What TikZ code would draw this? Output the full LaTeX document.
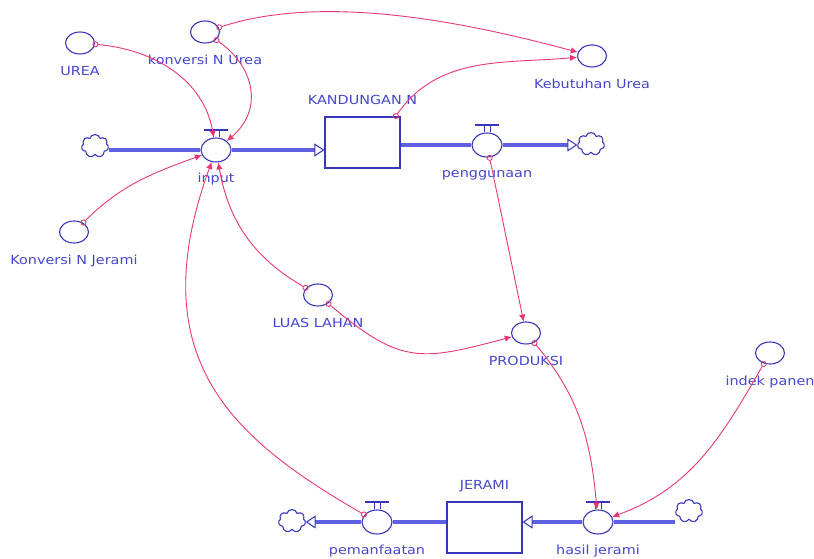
\documentclass[tikz,border=0pt]{standalone}
\usepackage{fontspec}
\newfontfamily\sdfont{DejaVu Sans}[FakeStretch=1.15]
\usetikzlibrary{arrows.meta,shapes.geometric,shapes.symbols}
\definecolor{sdline}{RGB}{55,55,185}
\definecolor{sdtext}{RGB}{70,70,205}
\definecolor{sdpipe}{RGB}{95,95,225}
\definecolor{sdlink}{RGB}{232,55,115}

\begin{document}
\begin{tikzpicture}[x=1pt,y=1pt,
    lbl/.style={text=sdtext, font=\sdfont\fontsize{12.5}{14}\selectfont, inner sep=0pt, text height=9pt, text depth=3pt},
    lblb/.style={lbl, yshift=-12pt},
    lblv/.style={lbl, yshift=-11pt},
    lbla/.style={lbl, yshift=9pt},
    aux/.style={ellipse, draw=sdline, line width=1.1pt, minimum width=29pt, minimum height=22pt, inner sep=0pt},
    valve/.style={ellipse, draw=sdline, line width=1.1pt, fill=white, minimum width=30pt, minimum height=24pt, inner sep=0pt},
    stock/.style={rectangle, draw=sdline, line width=1.1pt, fill=white, minimum width=75pt, minimum height=51pt},
    sink/.style={cloud, cloud puffs=7, cloud ignores aspect, draw=sdline, line width=1.1pt, minimum width=27pt, minimum height=23pt, inner sep=0pt},
    pipe/.style={draw=sdpipe, line width=3.5pt},
    flowtip/.style={-{Triangle[length=10pt,width=13pt,color=sdline,fill=white,line width=1pt]}},
    valvebar/.style={draw=sdline, line width=2pt},
    link/.style={draw=sdlink, line width=0.9pt, shorten <=-2.5pt, {Circle[open,length=6pt,width=6pt]}-{Latex[length=7pt,width=6.5pt]}}]
\useasboundingbox (0,0) rectangle (814,559);

\node[aux,label={[lblb]below:UREA}] (urea) at (80,516) {};
\node[aux,label={[lblb]below:konversi N Urea}] (konvUrea) at (205,527) {};
\node[aux,label={[lblb]below:Kebutuhan Urea}] (kebUrea) at (592,503) {};
\node[aux,label={[lblb]below:Konversi N Jerami}] (konvJerami) at (74,327) {};
\node[aux,label={[lblb]below:LUAS LAHAN}] (luas) at (318,264) {};
\node[aux,label={[lblb]below:PRODUKSI}] (produksi) at (526,226) {};
\node[aux,label={[lblb]below:indek panen}] (indek) at (770,206) {};

\node[valve,label={[lblv]below:input}] (input) at (216,409) {};
\node[valve,label={[lblv]below:penggunaan}] (pengg) at (487,414) {};
\node[valve,label={[lblv]below:pemanfaatan}] (pemanf) at (377,37) {};
\node[valve,label={[lblv]below:hasil jerami}] (hasil) at (598,37) {};

\node[stock,label={[lbla]above:KANDUNGAN N}] (kand) at (362.5,416.5) {};
\node[stock,label={[lbla]above:JERAMI}] (jerami) at (484.5,31.5) {};

\node[sink] (inCloud) at (95,413) {};
\node[sink] (outCloud) at (591,415) {};
\node[sink] (pemCloud) at (292,38) {};
\node[sink] (hasCloud) at (689,48) {};

\foreach \v in {input,pengg,pemanf,hasil}{
    \draw[valvebar] ([xshift=-12pt,yshift=7pt]\v.north) -- ([xshift=12pt,yshift=7pt]\v.north);
    \draw[sdline,line width=1pt] ([xshift=-3pt]\v.north) -- ++(0,7) ([xshift=3pt]\v.north) -- ++(0,7);
}

\draw[pipe] (inCloud.east |- input) -- (input);
\draw[pipe,flowtip] (input) -- (input -| kand.west);
\draw[pipe] (kand.east |- pengg) -- (pengg);
\draw[pipe,flowtip] (pengg) -- (pengg -| outCloud.west);
\draw[pipe] (hasCloud.west |- hasil) -- (hasil);
\draw[pipe,flowtip] (hasil) -- (hasil -| jerami.east);
\draw[pipe] (jerami.west |- pemanf) -- (pemanf);
\draw[pipe,flowtip] (pemanf) -- (pemanf -| pemCloud.east);

\draw[link] (urea) to[out=-5,in=100] (input);
\draw[link] (konvUrea) to[out=-35,in=40,looseness=1.2] (input);
\draw[link] (konvUrea) to[out=18,in=165,looseness=0.8] (kebUrea);
\draw[link] ([xshift=-5pt]kand.north east) to[out=55,in=185] (kebUrea);
\draw[link] (konvJerami) to[out=45,in=200] (input);
\draw[link] (luas) to[out=150,in=-80] (input);
\draw[link] (luas) to[out=-40,in=195,looseness=1.3] (produksi);
\draw[link] (pengg) -- (produksi);
\draw[link] (produksi) to[out=-50,in=95] (hasil);
\draw[link] (indek) to[out=-120,in=20] (hasil);
\draw[link] (pemanf) to[out=150,in=-110,out looseness=1,in looseness=1.4] (input);
\end{tikzpicture}
\end{document}
